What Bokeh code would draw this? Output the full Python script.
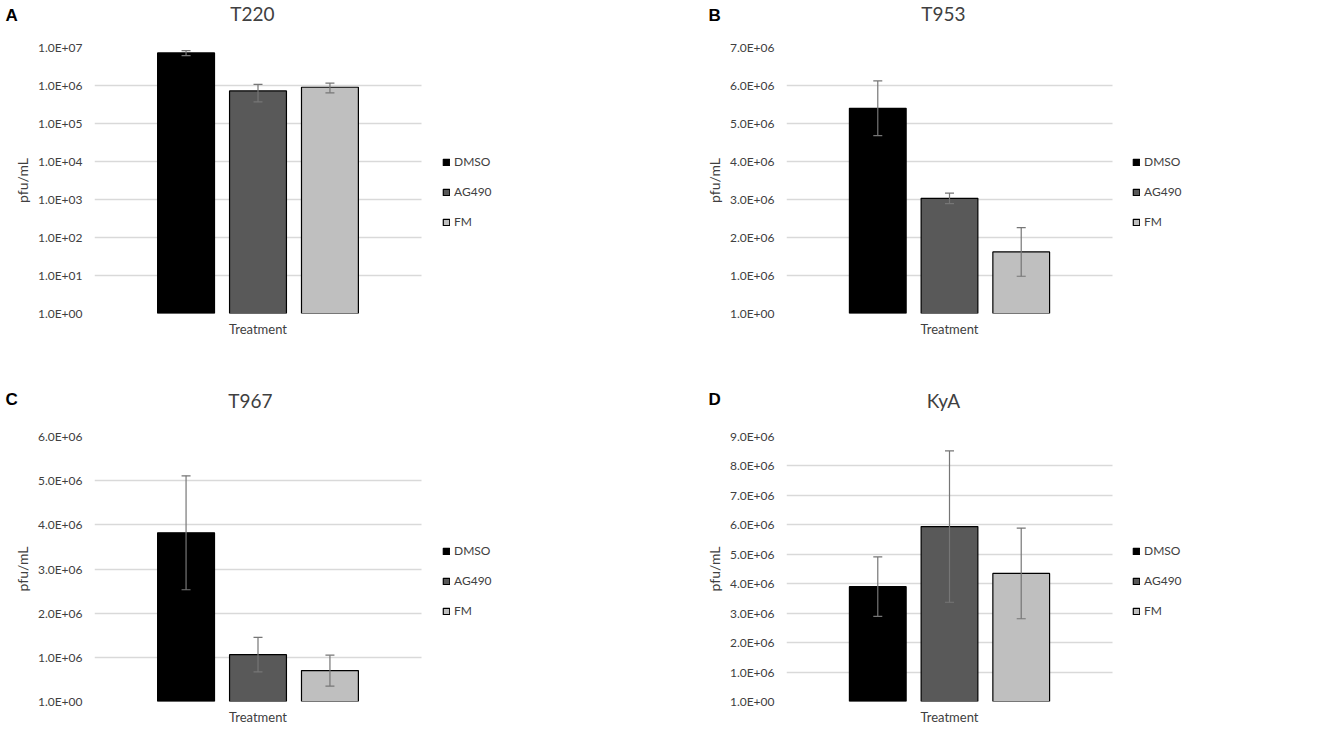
from bokeh.plotting import figure
from bokeh.models import (ColumnDataSource, Range1d, FixedTicker,
                          CustomJSTickFormatter, Label, Legend, LegendItem)
from bokeh.layouts import row, column
from bokeh.embed import file_html
from bokeh.resources import INLINE

# ---------------- data ----------------
category = "Treatment"
series = ["DMSO", "AG490", "FM"]
series_colors = ["#000000", "#595959", "#BFBFBF"]

titles = ["T220", "T953", "T967", "KyA"]
letters = ["A", "B", "C", "D"]

t220_mean = [7.2e6, 7.2e5, 9.0e5]
t220_err = [1.1e6, 3.5e5, 2.6e5]
t953_mean = [5.40e6, 3.03e6, 1.62e6]
t953_err = [0.72e6, 0.14e6, 0.64e6]
t967_mean = [3.82e6, 1.06e6, 0.70e6]
t967_err = [1.29e6, 0.39e6, 0.35e6]
kya_mean = [3.90e6, 5.94e6, 4.35e6]
kya_err = [1.01e6, 2.57e6, 1.54e6]

t220_ticks = [1, 1e1, 1e2, 1e3, 1e4, 1e5, 1e6, 1e7]
t953_ticks = [1, 1e6, 2e6, 3e6, 4e6, 5e6, 6e6, 7e6]
t967_ticks = [1, 1e6, 2e6, 3e6, 4e6, 5e6, 6e6]
kya_ticks = [1, 1e6, 2e6, 3e6, 4e6, 5e6, 6e6, 7e6, 8e6, 9e6]

FONT = "Lato"
TEXT = "#404040"
ERR = "#767676"

fmt = CustomJSTickFormatter(code="""
const e = Math.floor(Math.log10(tick) + 1e-9);
const m = tick / Math.pow(10, e);
return m.toFixed(1) + "E+" + (e < 10 ? "0" : "") + e;
""")
cat_fmt = CustomJSTickFormatter(args=dict(name=category), code="return name;")

# layout constants (pixels)
EXT_W = 466          # frame width incl. legend area
GROUP_CENTER = 0.5   # category centre in x data units (bars area is 0..1)
OFFSETS = [-0.22, 0.0, 0.22]
BAR_W = 0.174


def panel(title, letter, means, errs, ticks, log, bars_w, fh, top, right,
          bottom, left, title_xy, letter_xy, legend_xy):
    p = figure(frame_width=EXT_W, frame_height=fh, output_backend="svg",
               toolbar_location=None,
               x_range=Range1d(0, EXT_W / bars_w),
               y_range=Range1d(1, ticks[-1]),
               y_axis_type="log" if log else "linear",
               min_border_top=top, min_border_right=right,
               min_border_bottom=bottom, min_border_left=left)
    p.outline_line_color = None

    items = []
    for i, name in enumerate(series):
        xc = GROUP_CENTER + OFFSETS[i]
        src = ColumnDataSource(dict(
            x=[xc], top=[means[i]],
            upper=[means[i] + errs[i]], lower=[means[i] - errs[i]]))
        r = p.vbar(x="x", top="top", bottom=1, width=BAR_W, source=src,
                   fill_color=series_colors[i], line_color="#000000",
                   line_width=1.2)
        items.append(LegendItem(label=name, renderers=[r]))
        p.segment(x0="x", y0="lower", x1="x", y1="upper", source=src,
                  line_color=ERR, line_width=1.2)
        p.scatter(x="x", y="upper", source=src, marker="dash", size=9,
                  line_color=ERR, line_width=1.2)
        p.scatter(x="x", y="lower", source=src, marker="dash", size=9,
                  line_color=ERR, line_width=1.2)

    p.yaxis.ticker = FixedTicker(ticks=ticks, minor_ticks=[])
    p.yaxis.formatter = fmt
    p.yaxis.axis_line_color = None
    p.yaxis.major_tick_line_color = None
    p.yaxis.minor_tick_line_color = None
    p.yaxis.major_tick_out = 0
    p.yaxis.major_tick_in = 0
    p.yaxis.major_label_text_font = FONT
    p.yaxis.major_label_text_font_size = "12px"
    p.yaxis.major_label_text_color = TEXT
    p.yaxis.major_label_standoff = 12
    p.yaxis.axis_label = "pfu/mL"
    p.yaxis.axis_label_text_font = FONT
    p.yaxis.axis_label_text_font_size = "14px"
    p.yaxis.axis_label_text_font_style = "normal"
    p.yaxis.axis_label_text_color = TEXT
    p.yaxis.axis_label_standoff = 4

    p.xaxis.ticker = FixedTicker(ticks=[GROUP_CENTER], minor_ticks=[])
    p.xaxis.formatter = cat_fmt
    p.xaxis.axis_line_color = None
    p.xaxis.major_tick_line_color = None
    p.xaxis.minor_tick_line_color = None
    p.xaxis.major_tick_out = 0
    p.xaxis.major_tick_in = 0
    p.xaxis.major_label_text_font = FONT
    p.xaxis.major_label_text_font_size = "13px"
    p.xaxis.major_label_text_color = TEXT
    p.xaxis.major_label_standoff = 7

    p.ygrid.grid_line_color = "#D9D9D9"
    p.ygrid.grid_line_width = 1.3
    if "cross_bounds" in p.ygrid[0].properties():
        p.ygrid[0].cross_bounds = (0, 1)
    p.xgrid.grid_line_color = None

    # chart title and panel letter in the top border
    p.add_layout(Label(x=title_xy[0], y=title_xy[1], x_units="screen",
                       y_units="screen", text=title, text_font=FONT,
                       text_font_size="19px", text_color=TEXT,
                       text_align="center", text_baseline="middle"), "above")
    p.add_layout(Label(x=letter_xy[0], y=letter_xy[1], x_units="screen",
                       y_units="screen", text=letter,
                       text_font="Liberation Sans", text_font_size="17px",
                       text_font_style="bold", text_color="#000000",
                       text_align="left", text_baseline="top"), "above")

    lg = Legend(items=items, location=legend_xy)
    lg.border_line_color = None
    lg.background_fill_alpha = 0
    lg.padding = 0
    lg.margin = 0
    lg.spacing = 15
    lg.glyph_width = 8
    lg.glyph_height = 8
    lg.label_height = 14
    lg.label_standoff = 4
    lg.label_text_font = FONT
    lg.label_text_font_size = "12px"
    lg.label_text_color = TEXT
    p.add_layout(lg)
    return p


pa = panel(titles[0], letters[0], t220_mean, t220_err, t220_ticks, True,
           327, 266, 47, 94, 43, 94, (158, 34), (-89, 19), (348, 84))
pb = panel(titles[1], letters[1], t953_mean, t953_err, t953_ticks, False,
           326, 266, 47, 56, 43, 132, (157, 34), (-78, 19), (346, 84))
pc = panel(titles[2], letters[2], t967_mean, t967_err, t967_ticks, False,
           327, 265, 80, 94, 24, 94, (156, 36), (-89, 24), (348, 83))
pd = panel(titles[3], letters[3], kya_mean, kya_err, kya_ticks, False,
           326, 265, 80, 56, 24, 132, (157, 36), (-78, 24), (346, 83))

layout = column(row(pa, pb), row(pc, pd))
open("out.html", "w").write(file_html(layout, INLINE))
